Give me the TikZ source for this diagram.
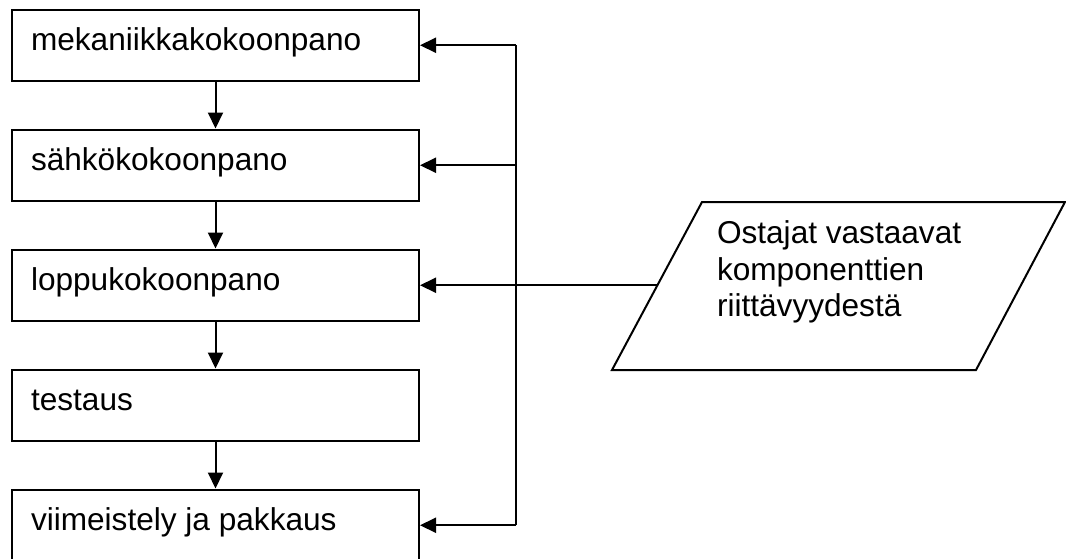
\documentclass[tikz,border=0pt]{standalone}
\usepackage{fontspec}
\setmainfont{Liberation Sans}
\usetikzlibrary{arrows.meta}
\begin{document}
\begin{tikzpicture}[x=1pt,y=-1pt,
  line width=2pt,
  stepbox/.style={draw=black, rectangle, minimum width=407pt, minimum height=71.5pt, inner sep=0pt},
  boxtext/.style={anchor=base west, inner sep=0pt, font=\fontsize{31.6}{36.5}\selectfont},
  arr/.style={-{Triangle[length=16pt,width=15pt]}}
]
\clip (0,0) rectangle (1066,558);

% process steps
\node[stepbox] (b1) at (215.5,45.25) {};
\node[stepbox] (b2) at (215.5,165.25) {};
\node[stepbox] (b3) at (215.5,285.25) {};
\node[stepbox] (b4) at (215.5,405.25) {};
\node[stepbox] (b5) at (215.5,525.25) {};

\node[boxtext] (t1) at (30,50.5) {mekaniikkakokoonpano};
\node[boxtext] (t2) at (30,170.5) {sähkökokoonpano};
\node[boxtext] (t3) at (30,290.5) {loppukokoonpano};
\node[boxtext] (t4) at (30,410.5) {testaus};
\node[boxtext] (t5) at (30,530.5) {viimeistely ja pakkaus};

% flow between the steps
\draw[arr] (b1) -- (b2);
\draw[arr] (b2) -- (b3);
\draw[arr] (b3) -- (b4);
\draw[arr] (b4) -- (b5);

% input parallelogram
\coordinate (p1) at (702,202);
\coordinate (p2) at (1065,202);
\coordinate (p3) at (976,370);
\coordinate (p4) at (612,370);
\draw (p1) -- (p2) -- (p3) -- (p4) -- cycle;
\coordinate (pl) at (657.5,285.25);
% base anchor of a multi-line node sits on its last line
\node[boxtext, align=left] (pt) at (716,316.5)
  {Ostajat vastaavat\\komponenttien\\riittävyydestä};

% supply line feeding the steps
\coordinate (bt) at (516,45.25);
\coordinate (bb) at (516,525.25);
\draw (bt) -- (bb);
\draw[arr] (bt) -- (b1.east);
\draw[arr] (b2.east -| bt) -- (b2.east);
\draw[arr] (pl) -- (b3.east);
\draw[arr] (bb) -- (b5.east);
\end{tikzpicture}
\end{document}
